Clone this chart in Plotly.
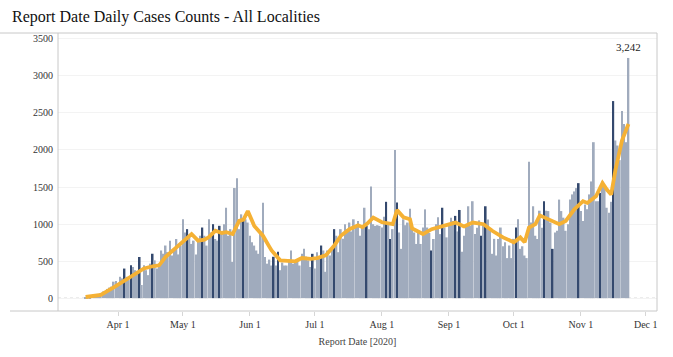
import datetime as dt
import plotly.graph_objects as go

# ---- data ----
start_date = "2020-03-17"
daily_cases = [
    12, 15, 22, 28, 35, 53, 45,
    66, 89, 80, 124, 142, 155, 222,
    231, 200, 288, 266, 399, 288, 244,
    443, 420, 377, 333, 555, 177, 443,
    377, 310, 465, 599, 510, 399, 465,
    643, 599, 710, 621, 776, 576, 640,
    798, 590, 709, 1064, 887, 931, 842,
    731, 776, 590, 798, 842, 953, 842,
    709, 1064, 887, 998, 798, 776, 976,
    870, 998, 1220, 842, 931, 488, 1486,
    1619, 931, 1131, 1064, 1064, 1020, 842,
    754, 709, 643, 598, 900, 1286, 555,
    465, 520, 440, 558, 440, 625, 377,
    480, 440, 440, 520, 643, 465, 500,
    510, 440, 598, 665, 560, 510, 420,
    598, 400, 620, 540, 710, 643, 355,
    643, 575, 665, 931, 842, 620, 931,
    800, 998, 931, 1020, 900, 1064, 975,
    1042, 842, 953, 1220, 975, 931, 1508,
    998, 975, 984, 975, 953, 1100, 1300,
    1020, 798, 931, 2000, 1290, 886, 665,
    1064, 984, 1020, 1206, 953, 886, 731,
    909, 731, 953, 1198, 953, 880, 643,
    798, 998, 1090, 864, 1220, 953, 820,
    998, 1086, 1042, 1110, 900, 1190, 625,
    842, 1000, 1240, 975, 1308, 865, 950,
    1050, 842, 1000, 1240, 1060, 909, 598,
    800, 575, 798, 953, 700, 754, 540,
    710, 540, 800, 953, 1065, 665, 700,
    575, 540, 1840, 1020, 1240, 842, 798,
    1180, 950, 1308, 1180, 1175, 1020, 665,
    887, 909, 1330, 1175, 1086, 909, 998,
    1330, 1400, 1440, 1485, 1552, 1175, 1042,
    1263, 1200, 1400, 1575, 2105, 1308, 1308,
    1420, 1575, 1510, 1220, 1153, 1300, 2660,
    2128, 2060, 1863, 2527, 2350, 2105, 3242,
]

highlight_dates = [
    "2020-04-04", "2020-04-07", "2020-04-11", "2020-04-17", "2020-05-03",
    "2020-05-10", "2020-05-15", "2020-05-18", "2020-05-29", "2020-06-12",
    "2020-06-14", "2020-06-30", "2020-07-04", "2020-07-10", "2020-07-25",
    "2020-08-03", "2020-08-05", "2020-08-08", "2020-08-24", "2020-08-29",
    "2020-09-04", "2020-09-06", "2020-09-16", "2020-09-18", "2020-10-02",
    "2020-10-15", "2020-10-19", "2020-10-31", "2020-11-10", "2020-11-16",
]

avg_dates = [
    "2020-03-17", "2020-03-24", "2020-03-30", "2020-04-06", "2020-04-09",
    "2020-04-13", "2020-04-17", "2020-04-20", "2020-04-23", "2020-04-28",
    "2020-05-05", "2020-05-08", "2020-05-11", "2020-05-13", "2020-05-16",
    "2020-05-19", "2020-05-21", "2020-05-24", "2020-05-27", "2020-05-29",
    "2020-05-31", "2020-06-03", "2020-06-05", "2020-06-07", "2020-06-10",
    "2020-06-11", "2020-06-15", "2020-06-18", "2020-06-22", "2020-06-25",
    "2020-06-29", "2020-07-02", "2020-07-06", "2020-07-10", "2020-07-13",
    "2020-07-17", "2020-07-21", "2020-07-23", "2020-07-25", "2020-07-28",
    "2020-07-30", "2020-08-01", "2020-08-06", "2020-08-08", "2020-08-11",
    "2020-08-14", "2020-08-15", "2020-08-20", "2020-08-24", "2020-08-28",
    "2020-09-01", "2020-09-04", "2020-09-08", "2020-09-12", "2020-09-17",
    "2020-09-21", "2020-09-26", "2020-10-01", "2020-10-04", "2020-10-06",
    "2020-10-08", "2020-10-11", "2020-10-13", "2020-10-17", "2020-10-22",
    "2020-10-25", "2020-10-29", "2020-11-02", "2020-11-04", "2020-11-08",
    "2020-11-11", "2020-11-13", "2020-11-15", "2020-11-17", "2020-11-18",
    "2020-11-20", "2020-11-23",
]
avg_values = [
    15, 44, 146, 266, 319,
    400, 430, 443, 557, 690,
    865, 775, 790, 824, 909,
    880, 891, 865, 1042, 1060,
    1175, 975, 900, 842, 692,
    643, 510, 500, 497, 541,
    530, 541, 576, 709, 842,
    931, 984, 958, 1000, 1086,
    1060, 1024, 998, 1188, 1090,
    1064, 940, 865, 931, 967,
    1000, 1020, 967, 1020, 998,
    909, 820, 754, 820, 754,
    953, 998, 1117, 1064, 998,
    1042, 1198, 1308, 1285, 1375,
    1552, 1465, 1397, 1730, 1863,
    2128, 2350,
]

month_ticks = ["2020-04-01", "2020-05-01", "2020-06-01", "2020-07-01", "2020-08-01",
               "2020-09-01", "2020-10-01", "2020-11-01", "2020-12-01"]
month_labels = ["Apr 1", "May 1", "Jun 1", "Jul 1", "Aug 1", "Sep 1", "Oct 1", "Nov 1", "Dec 1"]
y_ticks = [0, 500, 1000, 1500, 2000, 2500, 3000, 3500]

# ---- build ----
base = dt.date.fromisoformat(start_date)
dates = [base + dt.timedelta(days=k) for k in range(len(daily_cases))]
hl = set(dt.date.fromisoformat(d) for d in highlight_dates)
LIGHT = "#a0abbd"
DARK = "#34496e"
colors = [DARK if d in hl else LIGHT for d in dates]

SERIF = "Liberation Serif, Times New Roman, serif"

fig = go.Figure()
fig.add_trace(go.Bar(x=dates, y=daily_cases, marker=dict(color=colors, line=dict(width=0)),
                     hoverinfo="x+y"))
fig.add_trace(go.Scatter(x=avg_dates, y=avg_values, mode="lines",
                         line=dict(color="#f5b134", width=3.8), hoverinfo="x+y"))

x0 = dt.datetime.combine(base, dt.time()) - dt.timedelta(days=12.76)
x1 = dt.datetime.combine(base, dt.time()) + dt.timedelta(days=264.2)

fig.update_layout(
    width=673, height=357,
    margin=dict(l=58, r=16, t=33, b=44),
    paper_bgcolor="white", plot_bgcolor="white",
    showlegend=False, bargap=0.2,
    font=dict(family=SERIF, size=10, color="#333"),
    title=dict(text="Report Date Daily Cases Counts - All Localities",
               x=12 / 673, xanchor="left", xref="container",
               y=1 - 16 / 357, yanchor="middle", yref="container",
               font=dict(family=SERIF, size=16, color="#111")),
    xaxis=dict(type="date", range=[x0, x1], tickvals=month_ticks, ticktext=month_labels,
               ticks="outside", ticklen=4, tickcolor="#d6d6d6", showgrid=False,
               showline=False, zeroline=False,
               tickfont=dict(family=SERIF, size=10, color="#333"),
               title=dict(text="Report Date [2020]", standoff=8,
                          font=dict(family=SERIF, size=10, color="#444"))),
    yaxis=dict(range=[-174, 3579], tickvals=y_ticks, ticktext=[str(v) for v in y_ticks],
               showgrid=True, gridcolor="#f3f3f3", gridwidth=1, zeroline=False,
               showline=False, ticks="", ticklabelstandoff=4,
               tickfont=dict(family=SERIF, size=10, color="#333")),
)

line_col = "#c8c8c8"
# frame lines
fig.add_shape(type="line", xref="paper", yref="paper", x0=-58 / 599, x1=1, y0=1, y1=1,
              line=dict(color=line_col, width=1))
fig.add_shape(type="line", xref="paper", yref="paper", x0=-48 / 599, x1=1, y0=0, y1=0,
              line=dict(color=line_col, width=1))
fig.add_shape(type="line", xref="paper", yref="paper", x0=0, x1=0, y0=0, y1=1,
              line=dict(color=line_col, width=1))
fig.add_shape(type="line", xref="paper", yref="paper", x0=1, x1=1, y0=0, y1=1,
              line=dict(color=line_col, width=1))
# dotted zero line
fig.add_shape(type="line", xref="paper", yref="y", x0=0, x1=1, y0=0, y1=0,
              line=dict(color="#cfcfcf", width=1, dash="dot"), layer="below")

# label for the last value
fig.add_annotation(x=dates[-1], y=daily_cases[-1], text=f"{daily_cases[-1]:,}",
                   showarrow=False, yanchor="bottom", yshift=3,
                   font=dict(family=SERIF, size=11, color="#222"))

fig.write_html("out.html", config={"displayModeBar": False},
               post_script="document.body.style.margin='0px';document.body.style.padding='0px';")
